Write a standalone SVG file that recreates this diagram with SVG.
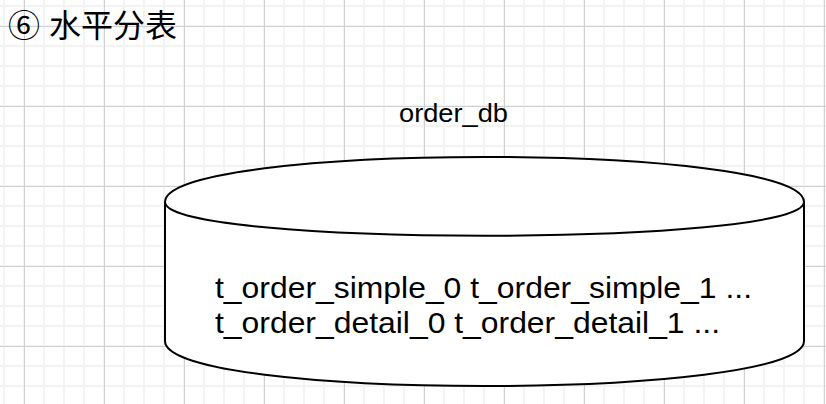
<svg xmlns="http://www.w3.org/2000/svg" width="826" height="404" viewBox="0 0 826 404">
  <defs>
    <pattern id="grid" patternUnits="userSpaceOnUse" x="3" y="5" width="80" height="80">
      <rect x="0" y="0" width="2" height="80" fill="#f3f3f3"/>
      <rect x="20" y="0" width="2" height="80" fill="#f3f3f3"/>
      <rect x="40" y="0" width="2" height="80" fill="#f3f3f3"/>
      <rect x="60" y="0" width="2" height="80" fill="#f3f3f3"/>
      <rect x="0" y="0" width="80" height="2" fill="#f3f3f3"/>
      <rect x="0" y="20" width="80" height="2" fill="#f3f3f3"/>
      <rect x="0" y="40" width="80" height="2" fill="#f3f3f3"/>
      <rect x="0" y="60" width="80" height="2" fill="#f3f3f3"/>
      <rect x="21" y="0" width="1" height="80" fill="#d0d0d0"/>
      <rect x="0" y="21" width="80" height="1" fill="#d0d0d0"/>
    </pattern>
  </defs>
  <style>
    .t { font-family: "Liberation Sans", Arial, "Noto Sans CJK SC", sans-serif; fill: #000; }
    .cyl { fill: #fff; stroke: #000; stroke-width: 2; }
  </style>
  <rect width="826" height="404" fill="#fff"/>
  <rect width="826" height="404" fill="url(#grid)"/>
  <g id="title">
    <text class="t" x="8" y="37" font-size="32">⑥ 水平分表</text>
  </g>
  <g id="order_db_label">
    <text class="t" x="399" y="122" font-size="26" textLength="109" lengthAdjust="spacingAndGlyphs">order_db</text>
  </g>
  <g id="order_db">
    <path class="cyl" d="M165,202 C165,142 804,142 804,202 L804,341 C804,401 165,401 165,341 Z"/>
    <path class="cyl" d="M165,202 C165,247 804,247 804,202" style="fill:none"/>
    <text class="t" x="215" y="298" font-size="30" textLength="537" lengthAdjust="spacingAndGlyphs">t_order_simple_0 t_order_simple_1 ...</text>
    <text class="t" x="215" y="333" font-size="30" textLength="505" lengthAdjust="spacingAndGlyphs">t_order_detail_0 t_order_detail_1 ...</text>
  </g>
  <g id="connectors"></g>
</svg>
